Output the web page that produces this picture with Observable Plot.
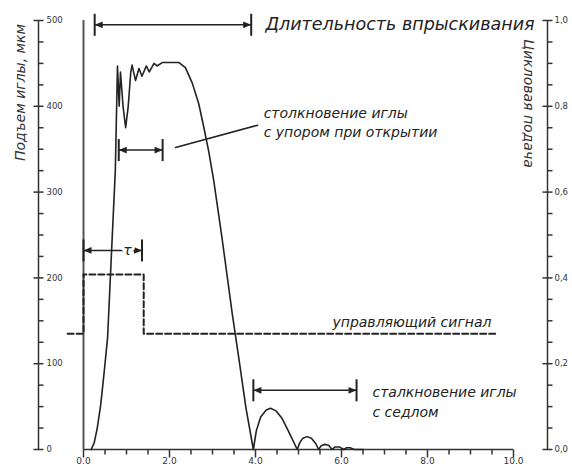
<!DOCTYPE html>
<html><head><meta charset="utf-8">
<script src="https://cdn.jsdelivr.net/npm/d3@7"></script>
<script src="https://cdn.jsdelivr.net/npm/@observablehq/plot@0.6"></script>
<style>body{margin:0;background:#fff} svg{display:block}</style>
</head><body><div id="chart"></div>
<script>
// Needle lift, µm, versus time, ms
const liftT = [0.18,0.25,0.32,0.40,0.47,0.53,0.56,0.65,0.74,0.79,0.83,0.86,0.92,0.98,1.04,1.10,1.13,1.21,1.29,1.36,1.46,1.53,1.64,1.71,1.83,2.22,2.37,2.53,2.68,2.80,2.91,3.03,3.22,3.46,3.61,3.78,3.95,
  4.02,4.12,4.25,4.35,4.48,4.62,4.78,4.97,5.03,5.10,5.20,5.30,5.40,5.47,5.52,5.60,5.70,5.78,5.85,5.95,6.05,6.12,6.20,6.30,6.50];
const liftV = [0,8,25,52,85,115,130,228,325,447,400,440,400,375,400,440,448,430,444,435,447,440,450,447,451,451,445,427,403,375,348,313,247,158,107,48,0,
  22,38,46,48,45,36,20,0,8,13,15,13,7,0,4,6,5,0,3,3,0,2,2,0,0];
// Control signal (dashed)
const signalT = [-0.37,0,0,1.4,1.4,9.6];
const signalV = [135,135,204,204,135,135];
// Axis ticks
const xMajorTicks = [0,2,4,6,8,10];
const xMinorTicks = [0.5,1,1.5,2.5,3,3.5,4.5,5,5.5,6.5,7,7.5,8.5,9,9.5];
const leftMajorTicks = [0,100,200,300,400,500];
const leftMinorTicks = [25,50,75,125,150,175,225,250,275,325,350,375,425,450,475];
const rightMajorTicks = [0,0.2,0.4,0.6,0.8,1.0];
const rightMinorTicks = [0.05,0.1,0.15,0.25,0.3,0.35,0.45,0.5,0.55,0.65,0.7,0.75,0.85,0.9,0.95];
// Dimension arrows
const spanStart = [0.26,0.82,0,3.95];
const spanEnd = [3.9,1.84,1.36,6.35];
const spanLevel = [495,349,232,69];
// Leader line
const leaderT = [2.14,4.05];
const leaderV = [352,378];
// Notes
const noteText = ["столкновение иглы","с упором при открытии","управляющий сигнал","сталкновение иглы","с седлом"];
const noteT = [4.19,4.19,5.79,6.72,6.72];
const noteV = [392,369,148,66,43];
const titleText = "Длительность впрыскивания";
const titleT = 4.23, titleV = 495;
const tauText = "τ", tauT = 1.02, tauV = 232;
const leftTitle = "Подъем иглы, мкм";
const rightTitle = "Цикловая подача";

const lift = liftT.map((t,i)=>({t, v: liftV[i]}));
const signal = signalT.map((t,i)=>({t, v: signalV[i]}));
const spans = spanStart.map((s,i)=>({x1:s, x2: spanEnd[i], y: spanLevel[i]}));
const leader = leaderT.map((t,i)=>({t, v: leaderV[i]}));
const notes = noteText.map((s,i)=>({s, t: noteT[i], v: noteV[i]}));

const rr = size => Math.sqrt(size/Math.PI);
const vseg = (a,b) => ({draw(c,size){const r=rr(size); c.moveTo(0,a*r); c.lineTo(0,b*r);}});
const hseg = (a,b) => ({draw(c,size){const r=rr(size); c.moveTo(a*r,0); c.lineTo(b*r,0);}});
const headR = {draw(c,size){const r=rr(size); c.moveTo(0,0); c.lineTo(-2*r,-0.85*r); c.lineTo(-2*r,0.85*r); c.closePath();}};
const headL = {draw(c,size){const r=rr(size); c.moveTo(0,0); c.lineTo(2*r,-0.85*r); c.lineTo(2*r,0.85*r); c.closePath();}};

const ink = "#222";
const chart = Plot.plot({
  width: 572, height: 471,
  marginLeft: 83, marginRight: 59, marginTop: 20, marginBottom: 22,
  x: {domain: [0,10], axis: null},
  y: {domain: [0,500], axis: null},
  style: {fontFamily: "DejaVu Sans", color: ink, background: "white", overflow: "visible"},
  marks: [
    // axes lines
    Plot.ruleY([0], {stroke: "#333", strokeWidth: 1.5}),
    Plot.ruleX([0], {y1: 0, y2: 500, stroke: "#555", strokeWidth: 2}),
    Plot.ruleX([0], {y1: 0, y2: 500, dx: -45, stroke: "#333", strokeWidth: 1.5}),
    Plot.ruleX([10], {y1: 0, y2: 500, dx: 34, stroke: "#333", strokeWidth: 1.5}),
    // x ticks
    Plot.dot(xMinorTicks, {x: d=>d, frameAnchor: "bottom", symbol: vseg(0,1), r: 5, stroke: "#333", strokeWidth: 1.5, fill: "none"}),
    Plot.dot(xMajorTicks, {x: d=>d, frameAnchor: "bottom", symbol: vseg(0,1), r: 8, stroke: "#333", strokeWidth: 1.5, fill: "none"}),
    Plot.text(xMajorTicks, {x: d=>d, text: d=>d.toFixed(1), frameAnchor: "bottom", dy: 14, fontSize: 9, fill: "#333"}),
    // left axis ticks
    Plot.dot(leftMinorTicks, {y: d=>d, frameAnchor: "left", dx: -45, symbol: hseg(0,1), r: 5, stroke: "#333", strokeWidth: 1.5, fill: "none"}),
    Plot.dot(leftMajorTicks, {y: d=>d, frameAnchor: "left", dx: -45, symbol: hseg(-1,1), r: 5, stroke: "#333", strokeWidth: 1.5, fill: "none"}),
    Plot.text(leftMajorTicks, {y: d=>d, text: d=>String(d), frameAnchor: "left", dx: -37, textAnchor: "start", fontSize: 8.5, fill: "#333"}),
    // right axis ticks
    Plot.dot(rightMinorTicks, {y: d=>d*500, frameAnchor: "right", dx: 34, symbol: hseg(0,1), r: 5, stroke: "#333", strokeWidth: 1.5, fill: "none"}),
    Plot.dot(rightMajorTicks, {y: d=>d*500, frameAnchor: "right", dx: 34, symbol: hseg(-1,1), r: 5, stroke: "#333", strokeWidth: 1.5, fill: "none"}),
    Plot.text(rightMajorTicks, {y: d=>d*500, text: d=>d.toFixed(1).replace(".", ","), frameAnchor: "right", dx: 41, textAnchor: "start", fontSize: 8.5, fill: "#333"}),
    // axis titles
    Plot.text([leftTitle], {frameAnchor: "top-left", dx: -63, dy: 72, rotate: -90, textAnchor: "middle", lineAnchor: "middle", fontSize: 14, fontStyle: "italic", fill: "#333"}),
    Plot.text([rightTitle], {frameAnchor: "top-right", dx: 15, dy: 83, rotate: 90, textAnchor: "middle", lineAnchor: "middle", fontSize: 14, fontStyle: "italic", fill: "#333"}),
    // control signal
    Plot.line(signal, {x: "t", y: "v", stroke: ink, strokeWidth: 2, strokeDasharray: "6,3"}),
    // needle lift
    Plot.line(lift, {x: "t", y: "v", stroke: ink, strokeWidth: 1.6}),
    // dimension arrows
    Plot.link(spans, {x1: "x1", x2: "x2", y1: "y", y2: "y", stroke: ink, strokeWidth: 1.5}),
    Plot.dot(spans, {x: "x1", y: "y", symbol: headL, r: 4, fill: ink, stroke: "none"}),
    Plot.dot(spans, {x: "x2", y: "y", symbol: headR, r: 4, fill: ink, stroke: "none"}),
    Plot.dot(spans, {x: "x1", y: "y", symbol: vseg(-1,1), r: 11, stroke: ink, strokeWidth: 2, fill: "none"}),
    Plot.dot(spans, {x: "x2", y: "y", symbol: vseg(-1,1), r: 11, stroke: ink, strokeWidth: 2, fill: "none"}),
    Plot.text([tauText], {x: tauT, y: tauV, fontSize: 14, fontStyle: "italic", fill: ink, stroke: "white", strokeWidth: 6}),
    // leader
    Plot.line(leader, {x: "t", y: "v", stroke: ink, strokeWidth: 1.5}),
    // notes
    Plot.text([titleText], {x: titleT, y: titleV, textAnchor: "start", fontSize: 17.5, fontStyle: "italic", fill: ink}),
    Plot.text(notes, {x: "t", y: "v", text: "s", textAnchor: "start", fontSize: 14, fontStyle: "italic", fill: ink})
  ]
});
document.getElementById("chart").append(chart);
</script>
</body></html>
